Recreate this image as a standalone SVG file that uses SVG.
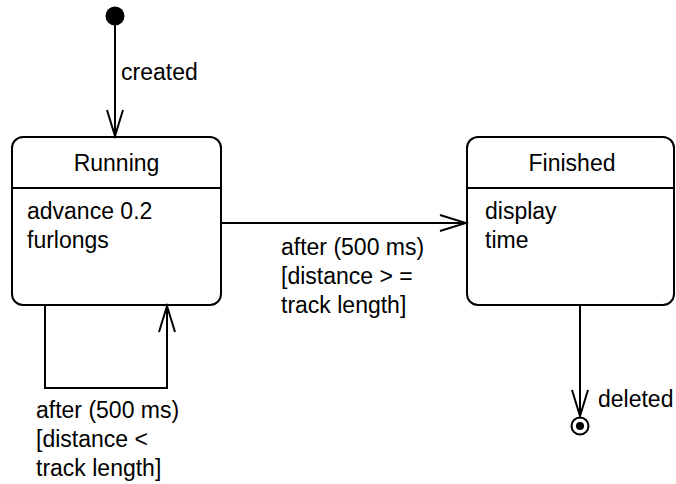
<svg xmlns="http://www.w3.org/2000/svg" width="676" height="484" viewBox="0 0 676 484">
<style>
.box{fill:#fff;stroke:#000;stroke-width:2}
.ln{fill:none;stroke:#000;stroke-width:2}
text{font-family:"Liberation Sans",Arial,Helvetica,sans-serif;font-size:23px;fill:#000}
.c{text-anchor:middle}
</style>
<defs>
<marker id="open" markerWidth="30" markerHeight="20" viewBox="-27 -9 30 18" refX="0" refY="0" orient="auto" markerUnits="userSpaceOnUse">
<path d="M-26,-8 L0,0 L-26,8" fill="none" stroke="#000" stroke-width="2"/>
</marker>
</defs>
<g id="initial"><circle cx="115" cy="16" r="9.5" fill="#000"/></g>
<g id="running">
<rect class="box" x="12" y="137" width="209" height="168" rx="11"/>
<line class="ln" x1="12" y1="188" x2="221" y2="188"/>
<text class="c" x="116.5" y="171">Running</text>
<text x="27" y="219">advance 0.2</text>
<text x="27" y="248">furlongs</text>
</g>
<g id="finished">
<rect class="box" x="467" y="137" width="207" height="168" rx="11"/>
<line class="ln" x1="467" y1="188" x2="674" y2="188"/>
<text class="c" x="572" y="171">Finished</text>
<text x="485" y="219">display</text>
<text x="485" y="248">time</text>
</g>
<g id="final">
<circle cx="580" cy="426" r="8.5" fill="#fff" stroke="#000" stroke-width="2"/>
<circle cx="580" cy="426" r="4" fill="#000"/>
</g>
<g id="connectors">
<line class="ln" x1="115" y1="25" x2="115" y2="136" marker-end="url(#open)"/>
<text x="121" y="80">created</text>
<line class="ln" x1="221" y1="223" x2="466" y2="223" marker-end="url(#open)"/>
<text x="281" y="255">after (500 ms)</text>
<text x="281" y="284">[distance &gt; =</text>
<text x="281" y="313">track length]</text>
<polyline class="ln" points="45,305 45,388 167,388 167,306" marker-end="url(#open)"/>
<text x="36" y="418">after (500 ms)</text>
<text x="36" y="447">[distance &lt;</text>
<text x="36" y="476">track length]</text>
<line class="ln" x1="580" y1="305" x2="580" y2="416" marker-end="url(#open)"/>
<text x="598" y="407">deleted</text>
</g>
</svg>
